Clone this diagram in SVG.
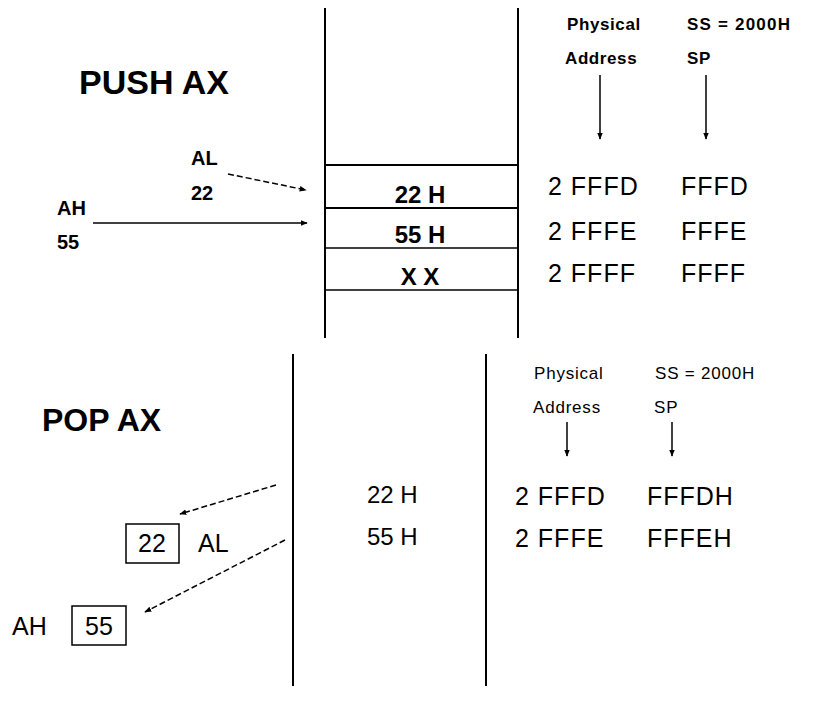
<svg xmlns="http://www.w3.org/2000/svg" width="818" height="706" viewBox="0 0 818 706">
<defs>
<marker id="ah2" viewBox="0 0 10 10" refX="9" refY="5" markerWidth="7" markerHeight="7" markerUnits="userSpaceOnUse" orient="auto"><path d="M0,1 L10,5 L0,9 z" fill="#000"/></marker>
</defs>
<style>
text{font-family:"Liberation Sans",Arial,sans-serif;fill:#000}
.title{font-size:33px;font-weight:bold}
.reg{font-size:20px;font-weight:bold}
.cell{font-size:24px;font-weight:bold}
.hdr{font-size:17px;font-weight:bold;letter-spacing:0.6px}
.hdr2{font-size:17px;letter-spacing:0.8px}
.val{font-size:25px;letter-spacing:1px}
.pop{font-size:24px}
.ln{stroke:#000;stroke-width:2;fill:none}
.thin{stroke:#000;stroke-width:1.5;fill:none}
.arr{stroke:#000;stroke-width:1.5;fill:none;marker-end:url(#ah2)}
.dash{stroke:#000;stroke-width:1.5;fill:none;stroke-dasharray:6 3;marker-end:url(#ah2)}
.box{stroke:#000;stroke-width:1.5;fill:#fff}
</style>
<rect width="818" height="706" fill="#fff"/>

<g id="push-stack">
<line class="ln" x1="325" y1="8" x2="325" y2="338"/>
<line class="ln" x1="518" y1="8" x2="518" y2="338"/>
<line class="ln" x1="325" y1="165" x2="518" y2="165"/>
<line class="ln" x1="325" y1="208" x2="518" y2="208"/>
<line class="thin" x1="325" y1="248" x2="518" y2="248"/>
<line class="thin" x1="325" y1="290" x2="518" y2="290"/>
<text class="cell" x="420" y="203" text-anchor="middle">22 H</text>
<text class="cell" x="420" y="243" text-anchor="middle">55 H</text>
<text class="cell" x="420" y="285" text-anchor="middle">X X</text>
</g>

<g id="push-title"><text class="title" x="79" y="94" style="font-size:34px">PUSH AX</text></g>
<g id="push-al"><text class="reg" x="191" y="165">AL</text><text class="reg" x="191" y="200">22</text></g>
<g id="push-ah"><text class="reg" x="57" y="215">AH</text><text class="reg" x="57" y="249">55</text></g>

<g id="push-headers">
<text class="hdr" x="567" y="30">Physical</text>
<text class="hdr" x="565" y="64">Address</text>
<text class="hdr" x="687" y="30" style="letter-spacing:1.2px">SS = 2000H</text>
<text class="hdr" x="687" y="64">SP</text>
</g>

<g id="push-values">
<text class="val" x="548" y="195">2 FFFD</text>
<text class="val" x="548" y="240">2 FFFE</text>
<text class="val" x="548" y="282">2 FFFF</text>
<text class="val" x="681" y="195">FFFD</text>
<text class="val" x="681" y="240">FFFE</text>
<text class="val" x="681" y="282">FFFF</text>
</g>

<g id="pop-stack">
<line class="ln" x1="293" y1="354" x2="293" y2="686"/>
<line class="ln" x1="486" y1="354" x2="486" y2="686"/>
<text class="pop" x="367" y="503">22 H</text>
<text class="pop" x="367" y="545">55 H</text>
</g>

<g id="pop-title"><text class="title" x="42" y="431" style="font-size:32px">POP AX</text></g>

<g id="pop-al">
<rect class="box" x="126" y="524" width="53" height="39"/>
<text class="pop" x="152" y="552" text-anchor="middle" style="font-size:25px">22</text>
<text class="pop" x="198" y="552" style="font-size:25px">AL</text>
</g>
<g id="pop-ah">
<rect class="box" x="72" y="606" width="54" height="39"/>
<text class="pop" x="99" y="635" text-anchor="middle" style="font-size:25px">55</text>
<text class="pop" x="12" y="635" style="font-size:25px">AH</text>
</g>

<g id="pop-headers">
<text class="hdr2" x="534" y="379">Physical</text>
<text class="hdr2" x="533" y="413">Address</text>
<text class="hdr2" x="655" y="379">SS = 2000H</text>
<text class="hdr2" x="654" y="413">SP</text>
</g>

<g id="pop-values">
<text class="val" x="515" y="505">2 FFFD</text>
<text class="val" x="515" y="547">2 FFFE</text>
<text class="val" x="647" y="505">FFFDH</text>
<text class="val" x="647" y="547">FFFEH</text>
</g>

<g id="connectors">
<line class="arr" x1="93" y1="223" x2="307" y2="223"/>
<line class="dash" x1="228" y1="174" x2="306" y2="190"/>
<line class="arr" x1="600" y1="75" x2="600" y2="139"/>
<line class="arr" x1="706" y1="75" x2="706" y2="139"/>
<line class="arr" x1="567" y1="422" x2="567" y2="456"/>
<line class="arr" x1="672" y1="422" x2="672" y2="456"/>
<line class="dash" x1="276" y1="485" x2="180" y2="514"/>
<line class="dash" x1="285" y1="540" x2="145" y2="612"/>
</g>
</svg>
